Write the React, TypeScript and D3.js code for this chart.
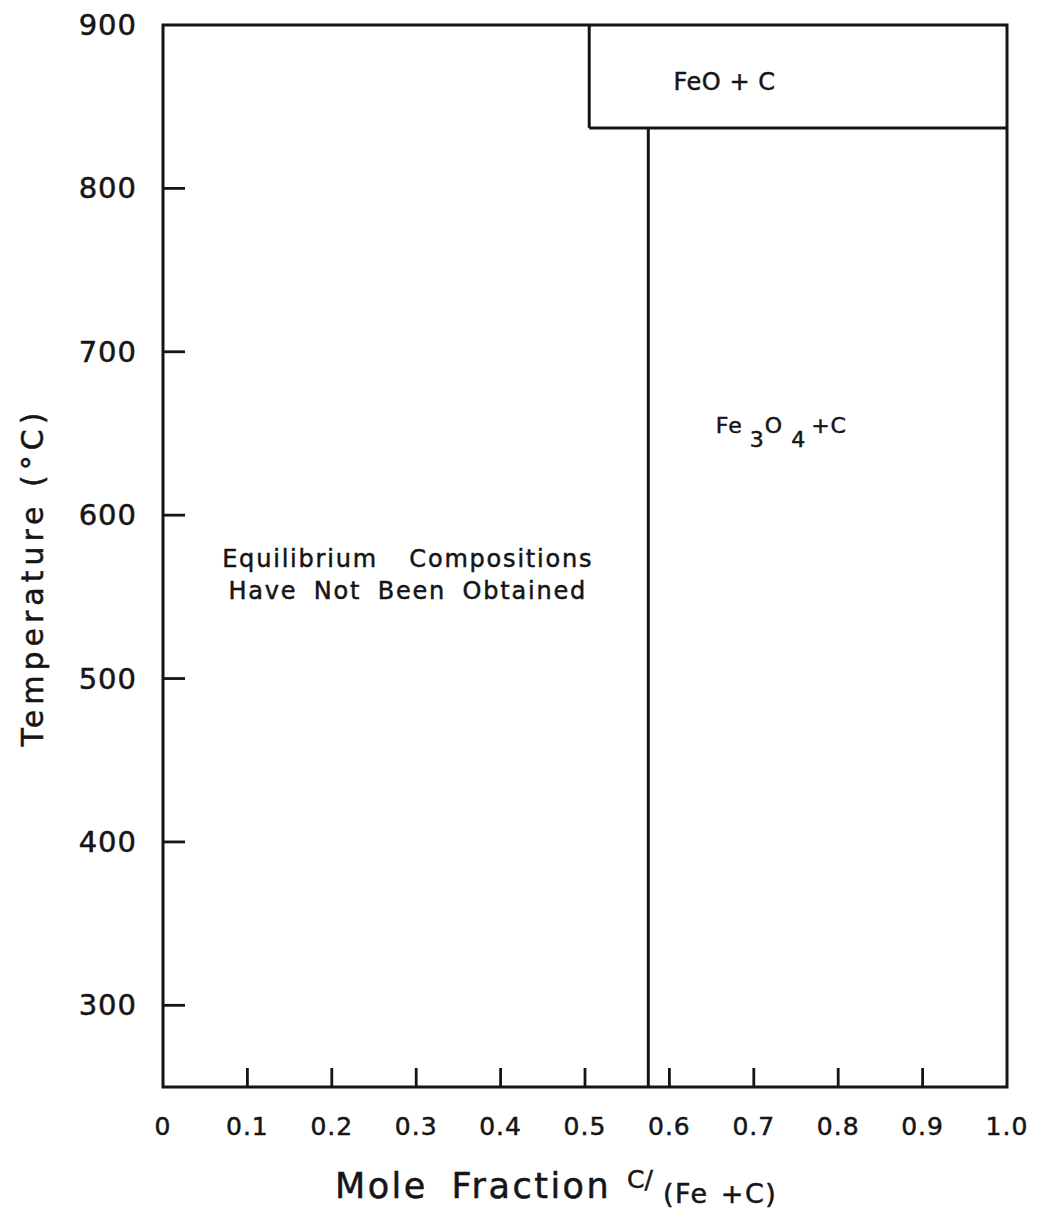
import React, { useEffect, useRef } from 'react'
import * as d3 from 'd3'

// axis ranges and ticks
const xDomain = [0, 1.0]
const tDomain = [250, 900]
const xTicks = [0, 0.1, 0.2, 0.3, 0.4, 0.5, 0.6, 0.7, 0.8, 0.9, 1.0]
const xTickLabels = ['0', '0.1', '0.2', '0.3', '0.4', '0.5', '0.6', '0.7', '0.8', '0.9', '1.0']
const tTicks = [300, 400, 500, 600, 700, 800, 900]

// phase boundaries (mole fraction, temperature)
const boundaryX = [
  [0.575, 0.575],
  [0.505, 1.0],
  [0.505, 0.505],
]
const boundaryT = [
  [250, 837],
  [837, 837],
  [837, 900],
]

// region labels: anchor point in data units
const regionX = [0.605, 0.655, 0.29]
const regionT = [860, 650, 568]

export default function App() {
  const svgRef = useRef<SVGSVGElement>(null)

  useEffect(() => {
    if (!svgRef.current) return
    const svg = d3.select(svgRef.current)
    svg.selectAll('*').remove()

    const left = 163
    const right = 1007
    const top = 25
    const bottom = 1087
    const ink = '#151515'
    const font = 'DejaVu Sans, sans-serif'

    const x = d3.scaleLinear().domain(xDomain).range([left, right])
    const y = d3.scaleLinear().domain(tDomain).range([bottom, top])

    const g = svg.append('g')

    const txt = (sel: d3.Selection<SVGTextElement, any, any, any>, size: number) =>
      sel
        .style('font-family', font)
        .style('font-size', `${size}px`)
        .style('fill', ink)
        .style('stroke', ink)
        .style('stroke-width', '0.5px')

    // frame
    g.append('rect')
      .attr('x', x(0))
      .attr('y', y(900))
      .attr('width', x(1) - x(0))
      .attr('height', y(250) - y(900))
      .attr('fill', 'none')
      .attr('stroke', ink)
      .attr('stroke-width', 3)

    // x ticks (pointing up, inside)
    g.selectAll('.xtick')
      .data(xTicks.slice(1, -1))
      .enter()
      .append('line')
      .attr('x1', d => x(d))
      .attr('x2', d => x(d))
      .attr('y1', y(250))
      .attr('y2', y(250) - 19)
      .attr('stroke', ink)
      .attr('stroke-width', 2.8)

    txt(
      g.selectAll('.xlabel')
        .data(xTicks)
        .enter()
        .append('text')
        .attr('x', d => x(d))
        .attr('y', y(250) + 48)
        .attr('text-anchor', 'middle')
        .style('letter-spacing', '1px'),
      25
    ).text((d, i) => xTickLabels[i])

    // y ticks (pointing right, inside)
    g.selectAll('.ytick')
      .data(tTicks.slice(0, -1))
      .enter()
      .append('line')
      .attr('x1', x(0))
      .attr('x2', x(0) + 22)
      .attr('y1', d => y(d))
      .attr('y2', d => y(d))
      .attr('stroke', ink)
      .attr('stroke-width', 2.8)

    txt(
      g.selectAll('.ylabel')
        .data(tTicks)
        .enter()
        .append('text')
        .attr('x', x(0) - 26)
        .attr('y', d => y(d) + 10)
        .attr('text-anchor', 'end')
        .style('letter-spacing', '1px'),
      29
    ).text(d => d)

    // phase boundaries
    const line = d3.line<[number, number]>()
      .x(d => x(d[0]))
      .y(d => y(d[1]))
    boundaryX.forEach((xs, i) => {
      const pts: [number, number][] = xs.map((v, j) => [v, boundaryT[i][j]])
      g.append('path')
        .attr('d', line(pts) as string)
        .attr('fill', 'none')
        .attr('stroke', ink)
        .attr('stroke-width', 3)
    })

    // region labels
    const lab = (i: number, size: number, dy = 0) =>
      txt(
        g.append('text')
          .attr('x', x(regionX[i]))
          .attr('y', y(regionT[i]) + dy),
        size
      )

    lab(0, 24).style('letter-spacing', '0.5px').text('FeO + C')

    const fe = lab(1, 22).style('letter-spacing', '1px')
    fe.append('tspan').text('Fe')
    fe.append('tspan').attr('dy', 14).attr('dx', 7).style('font-size', '22px').text('3')
    fe.append('tspan').attr('dy', -14).text('O')
    fe.append('tspan').attr('dy', 14).attr('dx', 8).style('font-size', '22px').text('4')
    fe.append('tspan').attr('dy', -14).attr('dx', 5).text('+C')

    lab(2, 24)
      .attr('text-anchor', 'middle')
      .style('letter-spacing', '1.8px')
      .style('word-spacing', '22px')
      .text('Equilibrium Compositions')
    lab(2, 24, 32)
      .attr('text-anchor', 'middle')
      .style('letter-spacing', '1.8px')
      .style('word-spacing', '7px')
      .text('Have Not Been Obtained')

    // axis titles
    const xt = txt(
      g.append('text')
        .attr('x', 335)
        .attr('y', 1198)
        .style('letter-spacing', '2.5px')
        .style('word-spacing', '10px'),
      35
    )
    xt.append('tspan').text('Mole Fraction')
    xt.append('tspan').attr('x', 627).attr('y', 1188).style('font-size', '25px').style('letter-spacing', '0px').text('C/')
    xt.append('tspan').attr('x', 663).attr('y', 1203).style('font-size', '27px').style('letter-spacing', '1.5px').style('word-spacing', '2px').text('(Fe +C)')

    txt(
      g.append('text')
        .attr('transform', 'translate(43, 577) rotate(-90)')
        .attr('text-anchor', 'middle')
        .style('letter-spacing', '5px'),
      30
    ).text('Temperature (°C)')
  }, [])

  return (
    <svg
      ref={svgRef}
      width={1038}
      height={1213}
      style={{ position: 'absolute', left: 0, top: 0, background: '#fff' }}
    />
  )
}
